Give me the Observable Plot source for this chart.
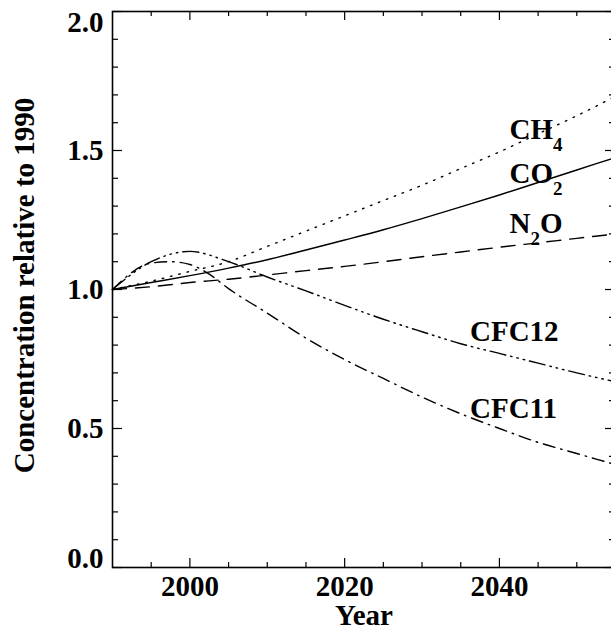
<!DOCTYPE html>
<html><head><meta charset="utf-8">
<script src="https://cdn.jsdelivr.net/npm/d3@7"></script>
<script src="https://cdn.jsdelivr.net/npm/@observablehq/plot@0.6"></script>
<style>html,body{margin:0;padding:0;overflow:hidden;background:#fff} svg{max-width:none !important}</style>
</head><body><div id="chart"></div>
<script>
// ---- data ----
const years = [1990, 1995, 2000, 2005, 2010, 2015, 2020, 2025, 2030, 2035, 2040, 2045, 2050, 2055];
const co2   = [1.0, 1.025, 1.05, 1.077, 1.107, 1.142, 1.178, 1.215, 1.255, 1.297, 1.34, 1.385, 1.43, 1.475];
const ch4   = [1.0, 1.03, 1.065, 1.10, 1.155, 1.21, 1.265, 1.32, 1.375, 1.435, 1.495, 1.56, 1.625, 1.695];
const n2o   = [1.0, 1.01, 1.025, 1.037, 1.052, 1.068, 1.083, 1.10, 1.118, 1.135, 1.152, 1.168, 1.184, 1.20];
const cfc12 = [1.0, 1.10, 1.137, 1.10, 1.045, 0.995, 0.943, 0.893, 0.848, 0.805, 0.77, 0.735, 0.70, 0.668];
const cfc11Years = [1990, 1995, 1997.5, 2000, 2002.5, 2005, 2010, 2015, 2020, 2025, 2030, 2035, 2040, 2045, 2050, 2055];
const cfc11 = [1.0, 1.095, 1.10, 1.09, 1.055, 1.003, 0.915, 0.825, 0.748, 0.68, 0.613, 0.553, 0.50, 0.45, 0.41, 0.37];

const labelNames  = ["CH_4", "CO_2", "N_2O", "CFC12", "CFC11"];
const labelYears  = [2041.3, 2041.3, 2041.3, 2036.2, 2036.2];
const labelValues = [1.576, 1.417, 1.237, 0.849, 0.572];

const majorX = [2000, 2020, 2040];
const minorX = [1995, 2005, 2010, 2015, 2025, 2030, 2035, 2045, 2050];
const majorY = [0, 0.5, 1.0, 1.5, 2.0];
const minorY = [0.1, 0.2, 0.3, 0.4, 0.6, 0.7, 0.8, 0.9, 1.1, 1.2, 1.3, 1.4, 1.6, 1.7, 1.8, 1.9];

// ---- styles ----
const dashes = {
  co2: null,
  ch4: "1.5,7",
  n2o: "14,9",
  cfc12: "16,5,1.5,5,1.5,5,1.5,5",
  cfc11: "12,6,1.5,6"
};
const series = {
  co2: [years, co2], ch4: [years, ch4], n2o: [years, n2o],
  cfc12: [years, cfc12], cfc11: [cfc11Years, cfc11]
};

const W = 620, H = 638, mL = 112, mR = 5, mT = 11, mB = 71;
const pw = W - mL - mR, ph = H - mT - mB;

const lineMarks = Object.entries(series).map(([k, [xs, vals]]) =>
  Plot.line(xs.map((y, i) => ({year: y, value: vals[i]})), {
    x: "year", y: "value", stroke: "black", strokeWidth: 1.4,
    strokeDasharray: dashes[k], curve: "monotone-x"
  })
);

const labels = labelNames.map((t, i) => ({t, x: labelYears[i], y: labelValues[i]}));
const fmt = d3.format(".1f");

const chart = Plot.plot({
  width: W, height: H,
  marginLeft: mL, marginRight: mR, marginTop: mT, marginBottom: mB,
  style: {fontFamily: "'Liberation Serif', 'Times New Roman', serif", fontSize: "29px", fontWeight: "bold", background: "white", color: "black", maxWidth: "none"},
  x: {domain: [1990, 2055], axis: null},
  y: {domain: [0, 2], axis: null},
  marks: [
    // inward ticks, all four sides
    Plot.ruleX(majorX, {x: d => d, insetTop: ph - 9, stroke: "black", strokeWidth: 1.2}),
    Plot.ruleX(minorX, {x: d => d, insetTop: ph - 5, stroke: "black", strokeWidth: 1.2}),
    Plot.ruleX(majorX, {x: d => d, insetBottom: ph - 9, stroke: "black", strokeWidth: 1.2}),
    Plot.ruleX(minorX, {x: d => d, insetBottom: ph - 5, stroke: "black", strokeWidth: 1.2}),
    Plot.ruleY(majorY, {y: d => d, insetRight: pw - 10, stroke: "black", strokeWidth: 1.2}),
    Plot.ruleY(minorY, {y: d => d, insetRight: pw - 6, stroke: "black", strokeWidth: 1.2}),
    Plot.ruleY(majorY, {y: d => d, insetLeft: pw - 10, stroke: "black", strokeWidth: 1.2}),
    Plot.ruleY(minorY, {y: d => d, insetLeft: pw - 6, stroke: "black", strokeWidth: 1.2}),
    Plot.frame({stroke: "black", strokeWidth: 1.6}),
    // tick labels
    Plot.axisX(majorX, {anchor: "bottom", tickSize: 0, tickPadding: 8, tickFormat: d => `${d}`, label: null}),
    Plot.axisY([0.5, 1.0, 1.5], {anchor: "left", tickSize: 0, tickPadding: 9, tickFormat: fmt, label: null}),
    Plot.axisY([2.0], {anchor: "left", tickSize: 0, tickPadding: 9, tickFormat: fmt, label: null, dy: 11}),
    Plot.axisY([0.0], {anchor: "left", tickSize: 0, tickPadding: 9, tickFormat: fmt, label: null, dy: -9}),
    // titles
    Plot.text(["Year"], {text: d => d, frameAnchor: "bottom", dy: 48, textAnchor: "middle", lineAnchor: "middle", fill: "black"}),
    Plot.text(["Concentration relative to 1990"], {text: d => d, frameAnchor: "left", rotate: -90, dx: -88, dy: -4, textAnchor: "middle", lineAnchor: "middle", fill: "black"}),
    // curves
    ...lineMarks,
    // curve labels
    Plot.text(labels, {x: "x", y: "y", text: "t", textAnchor: "start", lineAnchor: "middle", fill: "black"})
  ]
});

// subscripts
d3.select(chart).selectAll("text").each(function() {
  const t = this.textContent;
  const m = t.match(/^([A-Z]+)_(\d)(.*)$/);
  if (!m) return;
  const el = d3.select(this);
  el.text(null);
  el.append("tspan").text(m[1]);
  el.append("tspan").attr("dy", 12).attr("font-size", 19).text(m[2]);
  if (m[3]) el.append("tspan").attr("dy", -12).text(m[3]);
});
chart.style.maxWidth = "none";

document.getElementById("chart").appendChild(chart);
</script>
</body></html>
